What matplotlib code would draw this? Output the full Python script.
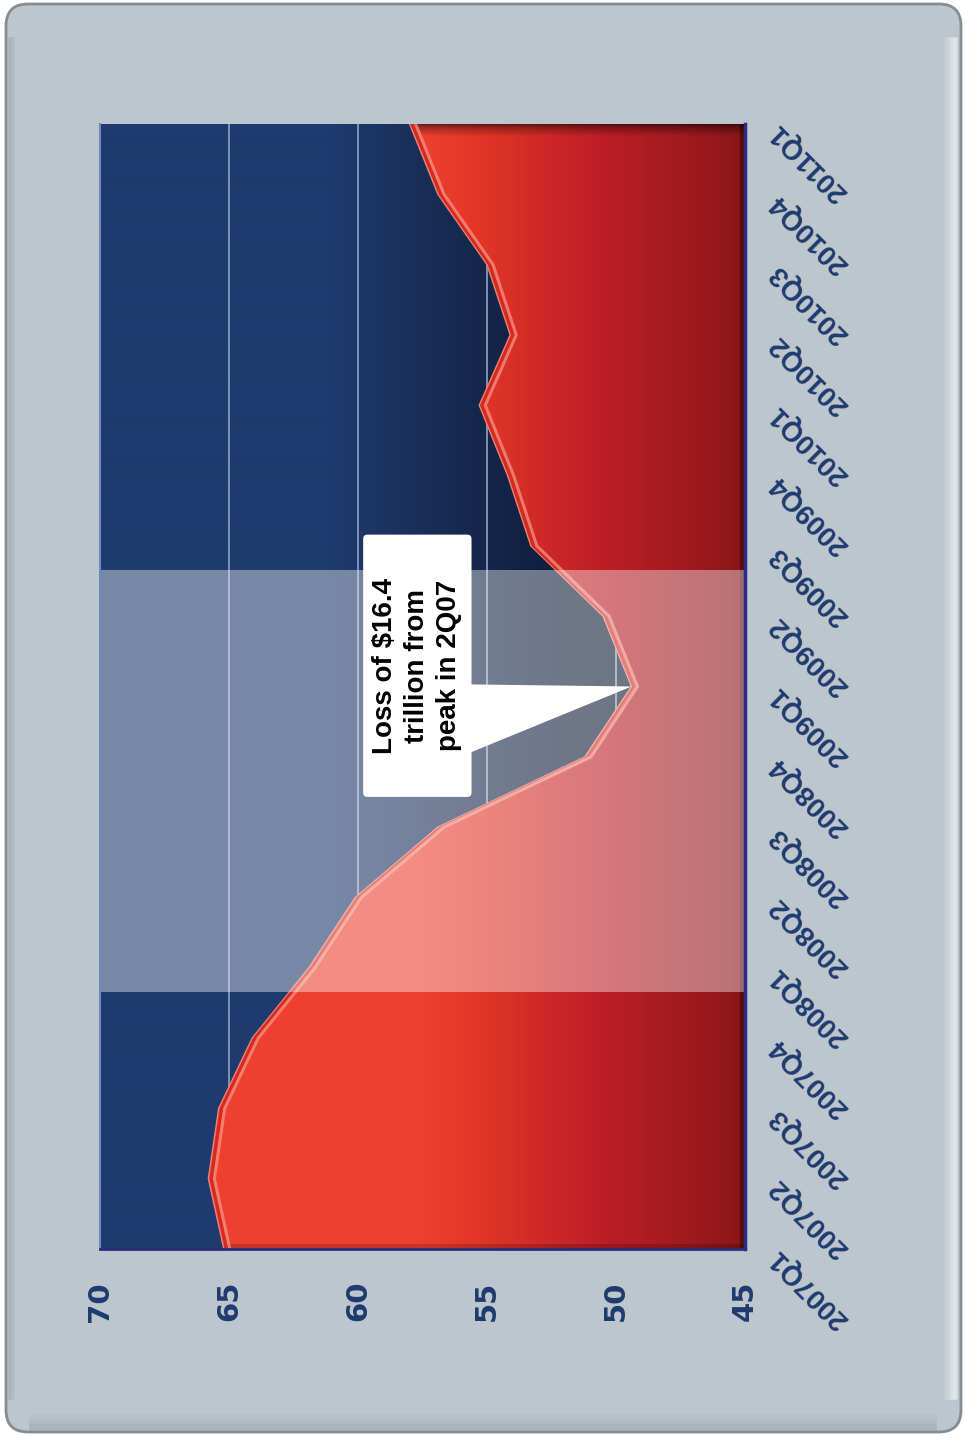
import numpy as np
import matplotlib
matplotlib.use("Agg")
import matplotlib.pyplot as plt
import matplotlib.transforms as mtransforms
from matplotlib.patches import FancyBboxPatch, Polygon
from matplotlib.colors import LinearSegmentedColormap, to_rgb

# Household net worth, trillions of dollars
quarters = ["2007Q1", "2007Q2", "2007Q3", "2007Q4",
            "2008Q1", "2008Q2", "2008Q3", "2008Q4",
            "2009Q1", "2009Q2", "2009Q3", "2009Q4",
            "2010Q1", "2010Q2", "2010Q3", "2010Q4", "2011Q1"]
net_worth = [65.2, 65.8, 65.4, 64.1,
             61.9, 60.1, 56.9, 51.2,
             49.4, 50.5, 53.3, 54.2,
             55.3, 54.1, 55.0, 56.9, 58.0]
value_ticks = [70, 65, 60, 55, 50, 45]
value_labels = ["70", "65", "60", "55", "50", "45"]
recession = (3.66, 9.66)          # Dec 2007 - Jun 2009, in quarter index units
callout = "Loss of $16.4\ntrillion from\npeak in 2Q07"

W, H = 965, 1438
fig = plt.figure(figsize=(W / 100, H / 100), dpi=100, facecolor="white")

# ---- rounded panel behind everything (pixel coordinates) ----
ident = mtransforms.IdentityTransform()
panel = FancyBboxPatch((6, 6), 955, 1428, boxstyle="round,pad=0,rounding_size=22",
                       transform=ident, facecolor="#bcc6cc", edgecolor="#848d94",
                       linewidth=2.0, zorder=-10)
fig.add_artist(panel)
# soft bevel: light right edge, darker bottom edge, grey left edge
for i, a in enumerate(np.linspace(0.85, 0.05, 9)):
    fig.add_artist(plt.Line2D([956 - i * 1.6] * 2, [40, 1400], transform=ident,
                              color="white", alpha=a * 0.55, lw=1.8, zorder=-9))
for i, a in enumerate(np.linspace(0.5, 0.0, 10)):
    fig.add_artist(plt.Line2D([30, 935], [9 + i * 1.8] * 2, transform=ident,
                              color="#7d878e", alpha=a * 0.5, lw=1.8, zorder=-9))
for i, a in enumerate(np.linspace(0.45, 0.05, 4)):
    fig.add_artist(plt.Line2D([9 + i * 1.8] * 2, [40, 1400], transform=ident,
                              color="#98a2a9", alpha=a, lw=1.8, zorder=-9))

left, right, top, bottom = 100, 745, 124, 1249
ax = fig.add_axes([left / W, 1 - bottom / H, (right - left) / W, (bottom - top) / H])
ax.set_xlim(70, 45)
ax.set_ylim(0, len(quarters) - 1)

nx, ny = right - left, bottom - top
xv = np.linspace(70, 45, nx)

def ramp(stops):
    pos = [(70 - v) / 25 for v, _ in stops]
    cols = [to_rgb(c) for _, c in stops]
    cm = LinearSegmentedColormap.from_list("r", list(zip(pos, cols)))
    return np.array(cm((70 - xv) / 25))[:, :3]

# ---- navy background gradient ----
navy = ramp([(70, "#1f3a6e"), (61, "#1f3a6e"), (56, "#16294f"),
             (52, "#0f1d3a"), (45, "#0c1830")])
bg = np.repeat(navy[None, :, :], 4, axis=0)
ax.imshow(bg, extent=(70, 45, 0, len(quarters) - 1), aspect="auto", zorder=0,
          interpolation="bilinear")

# gridlines
for v in [65, 60, 55, 50]:
    ax.axvline(v, color="#8fa2c6", lw=1.2, zorder=1)

# ---- red area with horizontal gradient and bevelled edges ----
red = ramp([(70, "#ef402f"), (57.5, "#ef402f"), (55, "#e03427"), (52, "#c82528"),
            (50, "#b81d24"), (47, "#9e1a1f"), (45, "#8a1519")])
img = np.repeat(red[None, :, :], ny, axis=0)
shade = np.ones((ny, nx))
r = np.arange(ny)[:, None]
c = np.arange(nx)[None, :]
shade *= np.where(r < 12, 0.45 + 0.55 * (r / 12.0) ** 0.7, 1.0)
shade *= np.where(r > ny - 6, 0.82, 1.0)
shade *= np.where(c > nx - 6, 0.62, 1.0)
img = img * shade[:, :, None]

area = ax.fill_betweenx(np.arange(len(quarters)), net_worth, 45,
                        facecolor="none", edgecolor="none", zorder=2)
clip = area.get_paths()[0]
im = ax.imshow(img, extent=(70, 45, 0, len(quarters) - 1), aspect="auto", zorder=2,
               interpolation="bilinear")
im.set_clip_path(clip, transform=ax.transData)

# edge highlight
ys = np.arange(len(quarters))
ax.plot(net_worth, ys, color="#f08272", lw=1.0, zorder=3)
inner = ax.transData + mtransforms.ScaledTranslation(3 / 100, 0, fig.dpi_scale_trans)
hl, = ax.plot(net_worth, ys, color="#d42a22", lw=2.5, zorder=3, transform=inner)
hl.set_clip_path(clip, transform=ax.transData)
inner2 = ax.transData + mtransforms.ScaledTranslation(6 / 100, 0, fig.dpi_scale_trans)
hl2, = ax.plot(net_worth, ys, color="#f7998a", lw=2.2, alpha=0.7, zorder=3,
               transform=inner2)
hl2.set_clip_path(clip, transform=ax.transData)

# recession band
ax.axhspan(recession[0], recession[1], color="white", alpha=0.4, lw=0, zorder=5)

# ---- callout ----
bx0, bx1 = 59.8, 55.6
by0, by1 = 6.43, 10.16
xs_px = 25.8
ys_px = 70.3
box = FancyBboxPatch((bx1, by0), bx0 - bx1, by1 - by0,
                     boxstyle="round,pad=0,rounding_size=0.16",
                     mutation_aspect=xs_px / ys_px,
                     facecolor="white", edgecolor="none", zorder=6)
ax.add_patch(box)
trough = int(np.argmin(net_worth))
ax.add_patch(Polygon([(bx1 + 0.05, 8.03), (net_worth[trough], trough),
                      (bx1 + 0.05, 7.06)], closed=True, facecolor="white",
                     edgecolor="none", zorder=6))
ax.text((bx0 + bx1) / 2, (by0 + by1) / 2, callout, rotation=90,
        ha="center", va="center", multialignment="center", fontsize=20,
        fontweight="bold", family="Liberation Sans", color="black",
        linespacing=1.3, zorder=7)

# ---- axes styling ----
ax.spines["top"].set_visible(False)
ax.spines["bottom"].set_color("#2b2d78")
ax.spines["bottom"].set_linewidth(2)
ax.spines["right"].set_color("#2e2a80")
ax.spines["right"].set_linewidth(2.5)
ax.spines["left"].set_color("#6f89b8")
ax.spines["left"].set_linewidth(1.5)
for sp in ax.spines.values():
    sp.set_zorder(8)

ax.set_xticks(value_ticks)
ax.set_xticklabels(value_labels, rotation=90, fontsize=21, fontweight="bold",
                   family="DejaVu Sans", color="#1f3a6e", va="top", ha="center")
ax.tick_params(axis="x", length=0, pad=23)

ax.yaxis.tick_right()
ax.set_yticks(ys)
ax.set_yticklabels(quarters, rotation=135, rotation_mode="anchor", ha="right",
                   va="center", fontsize=20, fontweight="bold",
                   family="Liberation Sans", color="#1f3a6e")
ax.tick_params(axis="y", length=0, pad=21)
shift = mtransforms.ScaledTranslation(0, -4 / 100, fig.dpi_scale_trans)
for lab in ax.get_yticklabels():
    lab.set_transform(lab.get_transform() + shift)

fig.savefig("out.png", dpi=100, facecolor="white")
